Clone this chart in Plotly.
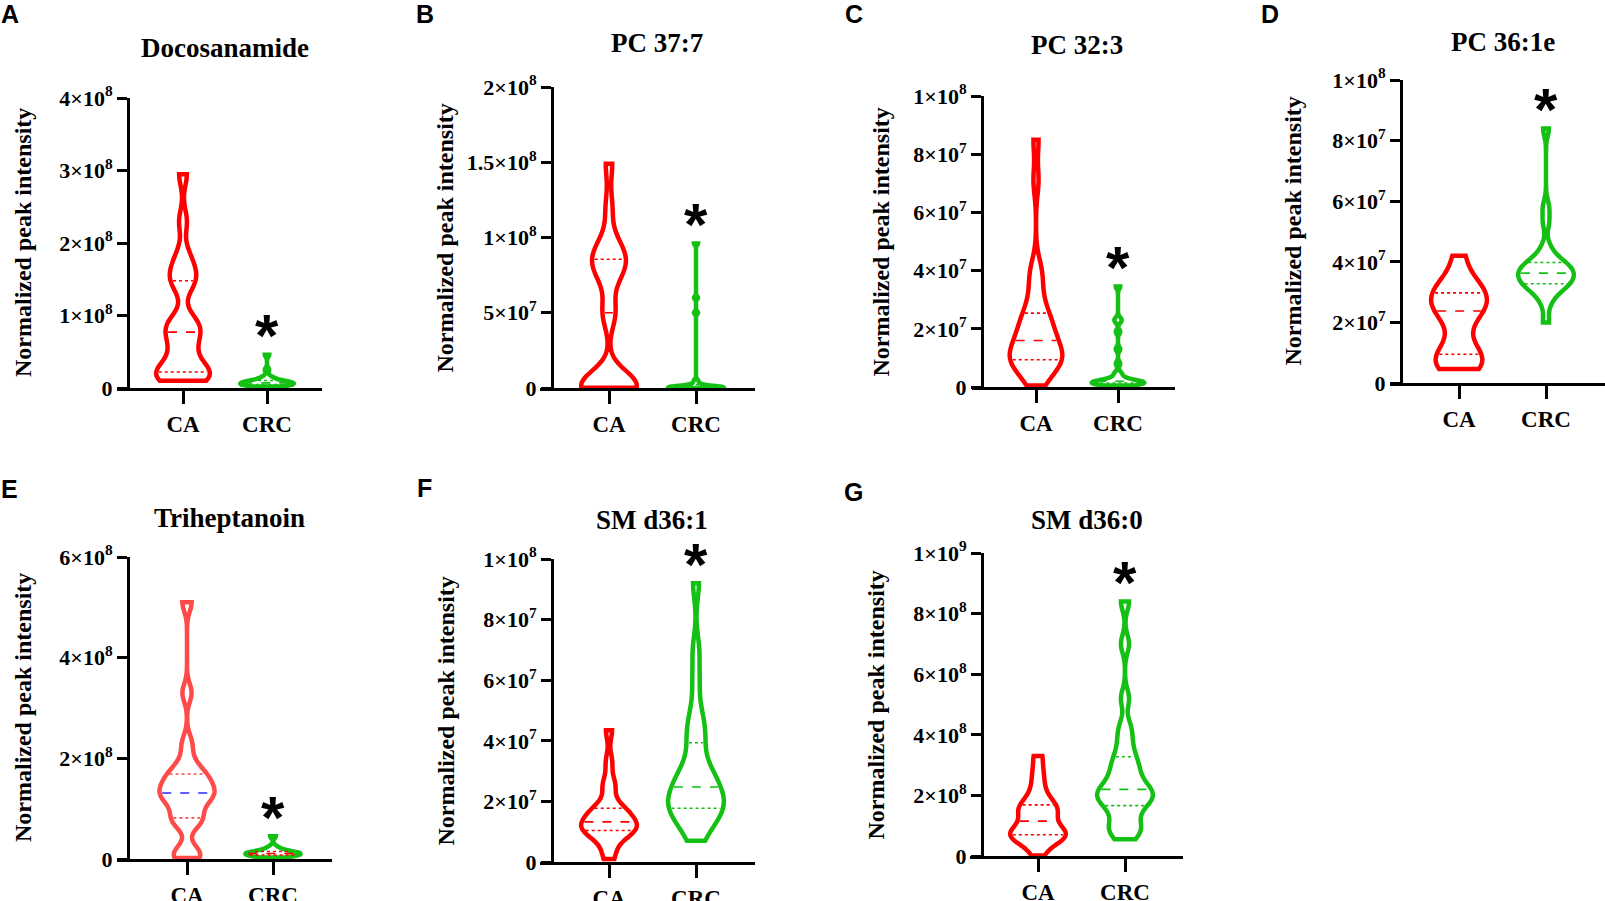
import numpy as np
import plotly.graph_objects as go

W, H = 1605, 901

categories = ['CA', 'CRC']
titles = ['Docosanamide', 'PC 37:7', 'PC 32:3', 'PC 36:1e', 'Triheptanoin', 'SM d36:1', 'SM d36:0']
letters = ['A', 'B', 'C', 'D', 'E', 'F', 'G']

# each panel's values are written in units of its scale
scales = [1e8, 1e8, 1e7, 1e7, 1e8, 1e7, 1e8]

ca_a = [0.10, 0.12, 0.15, 0.18, 0.20, 0.22, 0.30, 0.42, 0.55, 0.65, 0.77, 0.82, 0.88, 0.95, 1.40, 1.48, 1.58, 1.68, 1.85, 2.30, 2.95]
crc_a = [0.02, 0.03, 0.035, 0.04, 0.045, 0.05, 0.055, 0.06, 0.065, 0.07, 0.07, 0.075, 0.08, 0.09, 0.10, 0.11, 0.13, 0.16, 0.25, 0.46]

ca_b = [0.002, 0.003, 0.004, 0.005, 0.006, 0.008, 0.01, 0.02, 0.06, 0.48, 0.52, 0.72, 0.78, 0.82, 0.85, 0.87, 0.92, 0.98, 1.20, 1.49]
crc_b = [0.0005, 0.001, 0.001, 0.0015, 0.002, 0.002, 0.0025, 0.003, 0.003, 0.004, 0.005, 0.006, 0.008, 0.01, 0.02, 0.03, 0.05, 0.50, 0.60, 0.96]

ca_c = [0.05, 0.4, 0.6, 0.8, 0.85, 0.9, 0.95, 1.0, 1.1, 1.2, 1.4, 1.55, 1.65, 1.8, 2.0, 2.2, 2.4, 2.45, 2.8, 3.3, 3.8, 4.1, 7.1, 8.5]
crc_c = [0.05, 0.08, 0.1, 0.11, 0.12, 0.13, 0.14, 0.15, 0.16, 0.17, 0.18, 0.2, 0.22, 0.25, 0.3, 0.4, 0.5, 0.8, 1.3, 1.9, 2.25, 2.35, 3.45]

ca_d = [0.46, 0.55, 0.65, 0.8, 1.0, 1.3, 1.9, 2.3, 2.45, 2.55, 2.7, 2.95, 3.05, 3.2, 3.5, 4.2]
crc_d = [2.0, 2.6, 2.9, 3.05, 3.15, 3.2, 3.3, 3.35, 3.4, 3.45, 3.55, 3.6, 3.65, 3.7, 3.75, 3.85, 3.9, 3.95, 4.05, 4.2, 4.5, 5.3, 5.8, 8.4]

ca_e = [0.02, 0.08, 0.15, 0.7, 0.78, 0.83, 1.05, 1.15, 1.25, 1.3, 1.32, 1.4, 1.5, 1.6, 1.68, 1.72, 1.95, 2.3, 3.3, 5.1]
crc_e = [0.03, 0.05, 0.06, 0.07, 0.08, 0.09, 0.1, 0.1, 0.11, 0.12, 0.13, 0.14, 0.15, 0.17, 0.2, 0.25, 0.45]

ca_f = [0.1, 0.4, 0.75, 0.95, 1.0, 1.05, 1.1, 1.12, 1.2, 1.3, 1.35, 1.45, 1.6, 1.7, 1.75, 1.85, 2.45, 2.6, 3.3, 4.35]
crc_f = [0.7, 1.0, 1.3, 1.5, 1.6, 1.7, 1.8, 1.9, 2.0, 2.1, 2.25, 2.4, 2.55, 2.7, 2.85, 3.0, 3.3, 3.85, 4.2, 4.5, 5.0, 6.0, 7.0, 9.2]

ca_g = [0.02, 0.4, 0.5, 0.6, 0.65, 0.72, 0.75, 0.8, 0.9, 1.05, 1.25, 1.35, 1.5, 1.6, 1.65, 1.8, 2.05, 2.4, 2.8, 3.3]
crc_g = [0.55, 0.8, 0.9, 1.0, 1.3, 1.55, 1.7, 1.8, 1.9, 2.0, 2.1, 2.15, 2.25, 2.4, 2.6, 2.8, 3.0, 3.2, 3.5, 3.9, 4.3, 5.2, 7.0, 8.4]

ca_values = [ca_a, ca_b, ca_c, ca_d, ca_e, ca_f, ca_g]
crc_values = [crc_a, crc_b, crc_c, crc_d, crc_e, crc_f, crc_g]
bw_ca = [0.16, 0.10, 0.5, 0.45, 0.18, 0.3, 0.27]
bw_crc = [0.03, 0.01, 0.08, 0.25, 0.04, 0.5, 0.3]

ytick_vals = [
    [0, 1e8, 2e8, 3e8, 4e8],
    [0, 5e7, 1e8, 1.5e8, 2e8],
    [0, 2e7, 4e7, 6e7, 8e7, 1e8],
    [0, 2e7, 4e7, 6e7, 8e7, 1e8],
    [0, 2e8, 4e8, 6e8],
    [0, 2e7, 4e7, 6e7, 8e7, 1e8],
    [0, 2e8, 4e8, 6e8, 8e8, 1e9],
]
ytick_text = [
    ['0', '1×10^8', '2×10^8', '3×10^8', '4×10^8'],
    ['0', '5×10^7', '1×10^8', '1.5×10^8', '2×10^8'],
    ['0', '2×10^7', '4×10^7', '6×10^7', '8×10^7', '1×10^8'],
    ['0', '2×10^7', '4×10^7', '6×10^7', '8×10^7', '1×10^8'],
    ['0', '2×10^8', '4×10^8', '6×10^8'],
    ['0', '2×10^7', '4×10^7', '6×10^7', '8×10^7', '1×10^8'],
    ['0', '2×10^8', '4×10^8', '6×10^8', '8×10^8', '1×10^9'],
]

# pixel layout of each panel
panels = [
    dict(xl=117, xr=322, ca=183, crc=267, yx=128, yb=388, yt=98, tx=225, ty=48, lx=10, ly=14, yl=23),
    dict(xl=540, xr=755, ca=609, crc=696, yx=552, yb=388, yt=87, tx=657, ty=43, lx=425, ly=14, yl=445),
    dict(xl=972, xr=1175, ca=1036, crc=1118, yx=982, yb=387, yt=96, tx=1077, ty=45, lx=854, ly=14, yl=880),
    dict(xl=1390, xr=1605, ca=1459, crc=1546, yx=1401, yb=383, yt=80, tx=1503, ty=42, lx=1270, ly=14, yl=1292),
    dict(xl=117, xr=332, ca=187, crc=273, yx=128, yb=859, yt=557, tx=230, ty=518, lx=9, ly=489, yl=23),
    dict(xl=540, xr=755, ca=609, crc=696, yx=552, yb=862, yt=559, tx=652, ty=520, lx=425, ly=488, yl=445),
    dict(xl=970, xr=1183, ca=1038, crc=1125, yx=982, yb=856, yt=553, tx=1087, ty=520, lx=853, ly=492, yl=875),
]

RED = '#FF0000'
RED_E = '#FF4A4A'
GREEN = '#14C014'
VWIDTH = 0.64
SERIF = 'Liberation Serif'


def half_widths(vals, bw, ys, width):
    # same gaussian kde and 'hard' span scaling that the violin trace uses
    vals = np.asarray(vals)
    lo, hi = vals.min(), vals.max()
    n = int(np.ceil((hi - lo) / (bw / 3)))
    grid = np.linspace(lo, hi, n + 1)

    def dens(t):
        t = np.asarray(t, dtype=float)
        return np.exp(-0.5 * ((t[:, None] - vals[None, :]) / bw) ** 2).sum(axis=1)

    return dens(ys) / dens(grid).max() * width / 2


fig = go.Figure()
annotations = []

for i, p in enumerate(panels):
    k = '' if i == 0 else str(i + 1)
    xa, ya = 'x' + k, 'y' + k
    sc = scales[i]
    groups = [
        (0, np.array(ca_values[i]) * sc, bw_ca[i] * sc, RED_E if i == 4 else RED),
        (1, np.array(crc_values[i]) * sc, bw_crc[i] * sc, GREEN),
    ]
    for pos, vals, bw, col in groups:
        fig.add_trace(go.Violin(
            x0=pos, y=vals, name=categories[pos], xaxis=xa, yaxis=ya,
            line=dict(color=col, width=4.5), fillcolor='rgba(255,255,255,0)',
            spanmode='hard', bandwidth=bw, scalemode='width', width=VWIDTH,
            points=False, box_visible=False, meanline_visible=False,
            hoverinfo='skip', showlegend=False,
        ))
        qs = np.percentile(vals, [25, 50, 75])
        hws = half_widths(vals, bw, qs, VWIDTH)
        for j, (q, hw) in enumerate(zip(qs, hws)):
            hw = max(hw - 0.03, 0)
            lcol = col
            if j == 1 and i == 4 and pos == 0:
                lcol = '#2B2BFF'
            if i == 4 and pos == 1:
                lcol = RED
            fig.add_trace(go.Scatter(
                x=[pos - hw, pos + hw], y=[q, q], mode='lines', xaxis=xa, yaxis=ya,
                line=dict(color=lcol, width=1.6, dash='dash' if j == 1 else 'dot'),
                hoverinfo='skip', showlegend=False,
            ))

    span = p['crc'] - p['ca']
    xr = [(p['xl'] - p['ca']) / span, (p['xr'] - p['ca']) / span]
    ymax = ytick_vals[i][-1]
    fig.layout['xaxis' + k] = dict(
        domain=[p['xl'] / W, p['xr'] / W], range=xr, anchor=ya, automargin=False,
        tickvals=[0, 1], ticktext=categories, ticks='outside', ticklen=13, tickwidth=3,
        showline=True, linewidth=3, linecolor='black', tickcolor='black',
        showgrid=False, zeroline=False, fixedrange=True,
        tickfont=dict(family=SERIF, size=23, color='black', weight='bold'),
    )
    fig.layout['yaxis' + k] = dict(
        domain=[1 - p['yb'] / H, 1 - p['yt'] / H], range=[0, ymax], anchor='free',
        position=p['yx'] / W, automargin=False,
        tickvals=ytick_vals[i],
        ticktext=[t.replace('^', '<sup>') + ('</sup>' if '^' in t else '') for t in ytick_text[i]],
        ticks='outside', ticklen=10, tickwidth=3,
        showline=True, linewidth=3, linecolor='black', tickcolor='black',
        showgrid=False, zeroline=False, fixedrange=True,
        tickfont=dict(family=SERIF, size=22, color='black', weight='bold'),
    )

    annotations.append(dict(
        x=p['tx'] / W, y=1 - p['ty'] / H, xref='paper', yref='paper', text=titles[i],
        showarrow=False, xanchor='center', yanchor='middle',
        font=dict(family=SERIF, size=27, color='black', weight='bold'),
    ))
    annotations.append(dict(
        x=p['lx'] / W, y=1 - p['ly'] / H, xref='paper', yref='paper', text=letters[i],
        showarrow=False, xanchor='center', yanchor='middle',
        font=dict(family='Liberation Sans', size=25, color='black', weight='bold'),
    ))
    annotations.append(dict(
        x=p['yl'] / W, y=1 - (p['yb'] + p['yt']) / 2 / H, xref='paper', yref='paper',
        text='Normalized peak intensity', textangle=-90,
        showarrow=False, xanchor='center', yanchor='middle',
        font=dict(family=SERIF, size=24, color='black', weight='bold'),
    ))
    annotations.append(dict(
        x=1, y=max(crc_values[i]) * sc, xref=xa, yref=ya, text='*',
        showarrow=False, xanchor='center', yanchor='middle', yshift=19,
        font=dict(family='Liberation Sans', size=60, color='black', weight='bold'),
    ))

fig.update_layout(
    width=W, height=H,
    margin=dict(l=0, r=0, t=0, b=0, autoexpand=False),
    paper_bgcolor='white', plot_bgcolor='white',
    showlegend=False,
    annotations=annotations,
)

# the page body keeps its default 8px margin otherwise
fig.write_html('out.html', config={'displayModeBar': False},
               post_script="document.body.style.margin='0';")
